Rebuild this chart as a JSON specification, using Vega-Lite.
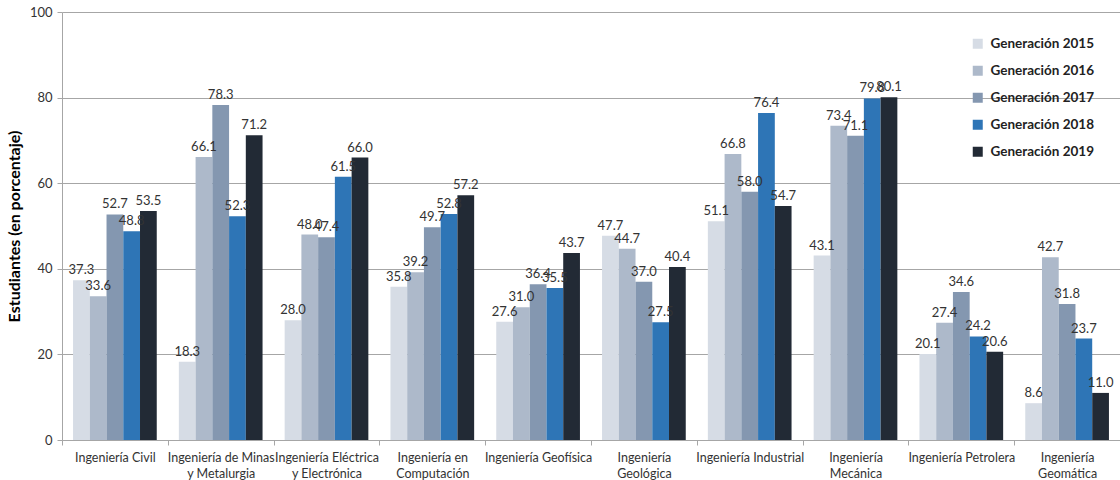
{
  "$schema": "https://vega.github.io/schema/vega-lite/v6.json",
  "autosize": "none",
  "width": 1058,
  "height": 428,
  "padding": {"left": 62, "top": 12, "right": 0, "bottom": 40},
  "background": "white",
  "config": {
    "font": "Lato",
    "view": {"stroke": null},
    "axis": {"labelFont": "Lato", "titleFont": "Lato"}
  },
  "data": {
    "values": [
      {"cat": "Ingeniería Civil", "gen": "Generación 2015", "v": 37.3},
      {"cat": "Ingeniería Civil", "gen": "Generación 2016", "v": 33.6},
      {"cat": "Ingeniería Civil", "gen": "Generación 2017", "v": 52.7},
      {"cat": "Ingeniería Civil", "gen": "Generación 2018", "v": 48.8},
      {"cat": "Ingeniería Civil", "gen": "Generación 2019", "v": 53.5},
      {"cat": "Ingeniería de Minas|y Metalurgia", "gen": "Generación 2015", "v": 18.3},
      {"cat": "Ingeniería de Minas|y Metalurgia", "gen": "Generación 2016", "v": 66.1},
      {"cat": "Ingeniería de Minas|y Metalurgia", "gen": "Generación 2017", "v": 78.3},
      {"cat": "Ingeniería de Minas|y Metalurgia", "gen": "Generación 2018", "v": 52.3},
      {"cat": "Ingeniería de Minas|y Metalurgia", "gen": "Generación 2019", "v": 71.2},
      {"cat": "Ingeniería Eléctrica|y Electrónica", "gen": "Generación 2015", "v": 28.0},
      {"cat": "Ingeniería Eléctrica|y Electrónica", "gen": "Generación 2016", "v": 48.0},
      {"cat": "Ingeniería Eléctrica|y Electrónica", "gen": "Generación 2017", "v": 47.4},
      {"cat": "Ingeniería Eléctrica|y Electrónica", "gen": "Generación 2018", "v": 61.5},
      {"cat": "Ingeniería Eléctrica|y Electrónica", "gen": "Generación 2019", "v": 66.0},
      {"cat": "Ingeniería en|Computación", "gen": "Generación 2015", "v": 35.8},
      {"cat": "Ingeniería en|Computación", "gen": "Generación 2016", "v": 39.2},
      {"cat": "Ingeniería en|Computación", "gen": "Generación 2017", "v": 49.7},
      {"cat": "Ingeniería en|Computación", "gen": "Generación 2018", "v": 52.8},
      {"cat": "Ingeniería en|Computación", "gen": "Generación 2019", "v": 57.2},
      {"cat": "Ingeniería Geofísica", "gen": "Generación 2015", "v": 27.6},
      {"cat": "Ingeniería Geofísica", "gen": "Generación 2016", "v": 31.0},
      {"cat": "Ingeniería Geofísica", "gen": "Generación 2017", "v": 36.4},
      {"cat": "Ingeniería Geofísica", "gen": "Generación 2018", "v": 35.5},
      {"cat": "Ingeniería Geofísica", "gen": "Generación 2019", "v": 43.7},
      {"cat": "Ingeniería|Geológica", "gen": "Generación 2015", "v": 47.7},
      {"cat": "Ingeniería|Geológica", "gen": "Generación 2016", "v": 44.7},
      {"cat": "Ingeniería|Geológica", "gen": "Generación 2017", "v": 37.0},
      {"cat": "Ingeniería|Geológica", "gen": "Generación 2018", "v": 27.5},
      {"cat": "Ingeniería|Geológica", "gen": "Generación 2019", "v": 40.4},
      {"cat": "Ingeniería Industrial", "gen": "Generación 2015", "v": 51.1},
      {"cat": "Ingeniería Industrial", "gen": "Generación 2016", "v": 66.8},
      {"cat": "Ingeniería Industrial", "gen": "Generación 2017", "v": 58.0},
      {"cat": "Ingeniería Industrial", "gen": "Generación 2018", "v": 76.4},
      {"cat": "Ingeniería Industrial", "gen": "Generación 2019", "v": 54.7},
      {"cat": "Ingeniería|Mecánica", "gen": "Generación 2015", "v": 43.1},
      {"cat": "Ingeniería|Mecánica", "gen": "Generación 2016", "v": 73.4},
      {"cat": "Ingeniería|Mecánica", "gen": "Generación 2017", "v": 71.1},
      {"cat": "Ingeniería|Mecánica", "gen": "Generación 2018", "v": 79.8},
      {"cat": "Ingeniería|Mecánica", "gen": "Generación 2019", "v": 80.1},
      {"cat": "Ingeniería Petrolera", "gen": "Generación 2015", "v": 20.1},
      {"cat": "Ingeniería Petrolera", "gen": "Generación 2016", "v": 27.4},
      {"cat": "Ingeniería Petrolera", "gen": "Generación 2017", "v": 34.6},
      {"cat": "Ingeniería Petrolera", "gen": "Generación 2018", "v": 24.2},
      {"cat": "Ingeniería Petrolera", "gen": "Generación 2019", "v": 20.6},
      {"cat": "Ingeniería|Geomática", "gen": "Generación 2015", "v": 8.6},
      {"cat": "Ingeniería|Geomática", "gen": "Generación 2016", "v": 42.7},
      {"cat": "Ingeniería|Geomática", "gen": "Generación 2017", "v": 31.8},
      {"cat": "Ingeniería|Geomática", "gen": "Generación 2018", "v": 23.7},
      {"cat": "Ingeniería|Geomática", "gen": "Generación 2019", "v": 11.0}
    ]
  },
  "encoding": {
    "x": {
      "field": "cat",
      "type": "nominal",
      "sort": null,
      "scale": {"paddingInner": 0, "paddingOuter": 0},
      "axis": {
        "title": null,
        "labelAngle": 0,
        "labelExpr": "datum.value ? split(datum.value, '|') : ''",
        "labelFontSize": 12.5,
        "labelColor": "#333333",
        "labelPadding": 6,
        "labelLineHeight": 16,
        "tickBand": "extent",
        "tickSize": 5,
        "tickColor": "#a6a6a6",
        "domainColor": "#a6a6a6",
        "grid": false
      }
    },
    "xOffset": {
      "field": "gen",
      "type": "nominal",
      "scale": {"paddingInner": 0, "paddingOuter": 0.66}
    },
    "y": {
      "field": "v",
      "type": "quantitative",
      "scale": {"domain": [0, 100]},
      "axis": {
        "title": "Estudiantes  (en porcentaje)",
        "titleFontSize": 16,
        "titleFontWeight": "bold",
        "titleColor": "#000000",
        "titlePadding": 7,
        "values": [0, 20, 40, 60, 80, 100],
        "labelFontSize": 13,
        "labelColor": "#333333",
        "labelPadding": 5,
        "tickSize": 5,
        "tickColor": "#a6a6a6",
        "domainColor": "#a6a6a6",
        "gridColor": "#a6a6a6",
        "gridWidth": 1
      }
    }
  },
  "layer": [
    {
      "mark": {"type": "bar"},
      "encoding": {
        "color": {
          "field": "gen",
          "type": "nominal",
          "scale": {
            "domain": ["Generación 2015", "Generación 2016", "Generación 2017", "Generación 2018", "Generación 2019"],
            "range": ["#d6dce5", "#adb9ca", "#8497b0", "#2e75b6", "#222a35"]
          },
          "legend": {
            "title": null,
            "orient": "none",
            "legendX": 909,
            "legendY": 25,
            "symbolType": "square",
            "symbolSize": 100,
            "symbolStrokeWidth": 0,
            "labelFontSize": 13.5,
            "labelFontWeight": "bold",
            "labelColor": "#222222",
            "rowPadding": 12,
            "labelOffset": 6
          }
        }
      }
    },
    {
      "mark": {"type": "text", "baseline": "bottom", "dy": -3, "fontSize": 13, "color": "#333333"},
      "encoding": {
        "text": {"field": "v", "type": "quantitative", "format": ".1f"}
      }
    }
  ]
}
